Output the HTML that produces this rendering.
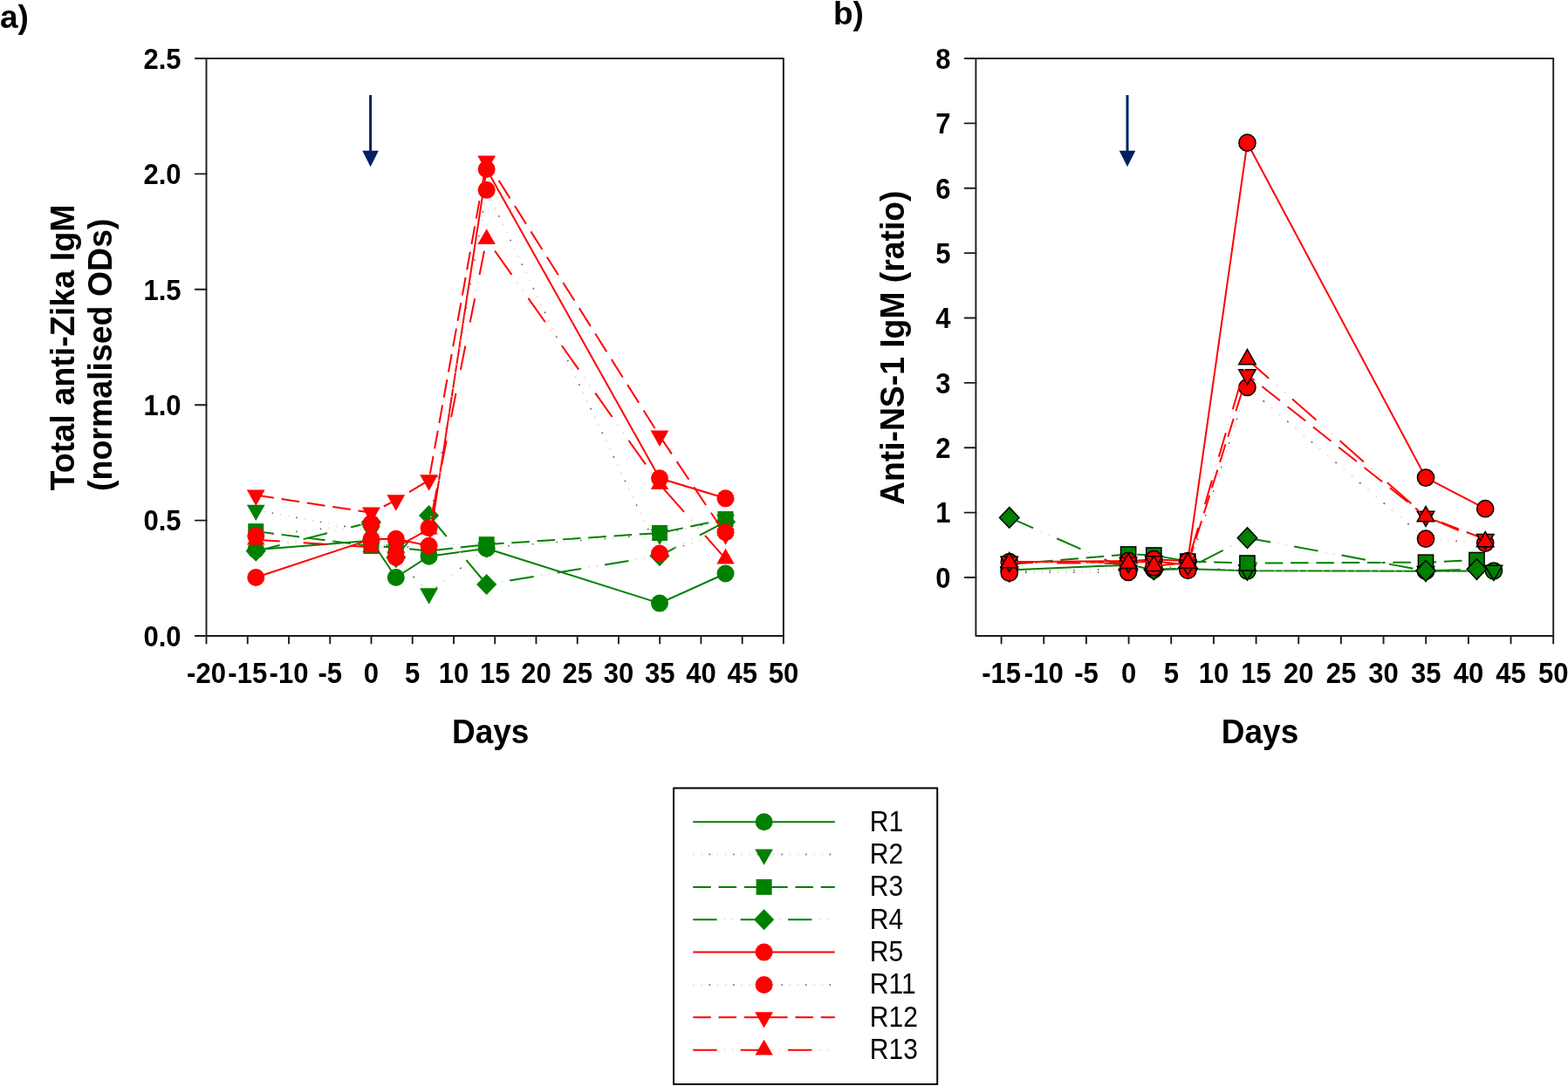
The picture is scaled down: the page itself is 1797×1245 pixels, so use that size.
<!DOCTYPE html>
<html><head><meta charset="utf-8"><title>Anti-Zika IgM figure</title>
<style>
html,body{margin:0;padding:0;background:#fff;}
body{width:1797px;height:1245px;overflow:hidden;}
svg{display:block;}
text{font-family:"Liberation Sans",Arial,sans-serif;fill:#000;}
.tk{font-size:31px;font-weight:bold;}
.ti{font-size:37px;font-weight:bold;}
.pl{font-size:37px;font-weight:bold;}
.lg{font-size:30px;}
</style></head>
<body>
<svg width="1797" height="1245" viewBox="0 0 1797 1245">
<rect width="1797" height="1245" fill="#fff"/>
<rect x="236.5" y="67.0" width="661.4" height="662" fill="none" stroke="#1c1c1c" stroke-width="1.9" stroke-linejoin="round"/>
<line x1="236.5" y1="729.0" x2="236.5" y2="737.5" stroke="#1c1c1c" stroke-width="1.9" stroke-linecap="round"/>
<text transform="translate(236.5,782.8) scale(1,1.06)" text-anchor="middle" class="tk">-20</text>
<line x1="283.74" y1="729.0" x2="283.74" y2="737.5" stroke="#1c1c1c" stroke-width="1.9" stroke-linecap="round"/>
<text transform="translate(283.74,782.8) scale(1,1.06)" text-anchor="middle" class="tk">-15</text>
<line x1="330.99" y1="729.0" x2="330.99" y2="737.5" stroke="#1c1c1c" stroke-width="1.9" stroke-linecap="round"/>
<text transform="translate(330.99,782.8) scale(1,1.06)" text-anchor="middle" class="tk">-10</text>
<line x1="378.23" y1="729.0" x2="378.23" y2="737.5" stroke="#1c1c1c" stroke-width="1.9" stroke-linecap="round"/>
<text transform="translate(378.23,782.8) scale(1,1.06)" text-anchor="middle" class="tk">-5</text>
<line x1="425.47" y1="729.0" x2="425.47" y2="737.5" stroke="#1c1c1c" stroke-width="1.9" stroke-linecap="round"/>
<text transform="translate(425.47,782.8) scale(1,1.06)" text-anchor="middle" class="tk">0</text>
<line x1="472.71" y1="729.0" x2="472.71" y2="737.5" stroke="#1c1c1c" stroke-width="1.9" stroke-linecap="round"/>
<text transform="translate(472.71,782.8) scale(1,1.06)" text-anchor="middle" class="tk">5</text>
<line x1="519.96" y1="729.0" x2="519.96" y2="737.5" stroke="#1c1c1c" stroke-width="1.9" stroke-linecap="round"/>
<text transform="translate(519.96,782.8) scale(1,1.06)" text-anchor="middle" class="tk">10</text>
<line x1="567.2" y1="729.0" x2="567.2" y2="737.5" stroke="#1c1c1c" stroke-width="1.9" stroke-linecap="round"/>
<text transform="translate(567.2,782.8) scale(1,1.06)" text-anchor="middle" class="tk">15</text>
<line x1="614.44" y1="729.0" x2="614.44" y2="737.5" stroke="#1c1c1c" stroke-width="1.9" stroke-linecap="round"/>
<text transform="translate(614.44,782.8) scale(1,1.06)" text-anchor="middle" class="tk">20</text>
<line x1="661.69" y1="729.0" x2="661.69" y2="737.5" stroke="#1c1c1c" stroke-width="1.9" stroke-linecap="round"/>
<text transform="translate(661.69,782.8) scale(1,1.06)" text-anchor="middle" class="tk">25</text>
<line x1="708.93" y1="729.0" x2="708.93" y2="737.5" stroke="#1c1c1c" stroke-width="1.9" stroke-linecap="round"/>
<text transform="translate(708.93,782.8) scale(1,1.06)" text-anchor="middle" class="tk">30</text>
<line x1="756.17" y1="729.0" x2="756.17" y2="737.5" stroke="#1c1c1c" stroke-width="1.9" stroke-linecap="round"/>
<text transform="translate(756.17,782.8) scale(1,1.06)" text-anchor="middle" class="tk">35</text>
<line x1="803.41" y1="729.0" x2="803.41" y2="737.5" stroke="#1c1c1c" stroke-width="1.9" stroke-linecap="round"/>
<text transform="translate(803.41,782.8) scale(1,1.06)" text-anchor="middle" class="tk">40</text>
<line x1="850.66" y1="729.0" x2="850.66" y2="737.5" stroke="#1c1c1c" stroke-width="1.9" stroke-linecap="round"/>
<text transform="translate(850.66,782.8) scale(1,1.06)" text-anchor="middle" class="tk">45</text>
<line x1="897.9" y1="729.0" x2="897.9" y2="737.5" stroke="#1c1c1c" stroke-width="1.9" stroke-linecap="round"/>
<text transform="translate(897.9,782.8) scale(1,1.06)" text-anchor="middle" class="tk">50</text>
<line x1="223.8" y1="729" x2="236.5" y2="729" stroke="#1c1c1c" stroke-width="1.9" stroke-linecap="round"/>
<text transform="translate(207.5,740.8) scale(1,1.06)" text-anchor="end" class="tk">0.0</text>
<line x1="223.8" y1="596.6" x2="236.5" y2="596.6" stroke="#1c1c1c" stroke-width="1.9" stroke-linecap="round"/>
<text transform="translate(207.5,608.4) scale(1,1.06)" text-anchor="end" class="tk">0.5</text>
<line x1="223.8" y1="464.2" x2="236.5" y2="464.2" stroke="#1c1c1c" stroke-width="1.9" stroke-linecap="round"/>
<text transform="translate(207.5,476) scale(1,1.06)" text-anchor="end" class="tk">1.0</text>
<line x1="223.8" y1="331.8" x2="236.5" y2="331.8" stroke="#1c1c1c" stroke-width="1.9" stroke-linecap="round"/>
<text transform="translate(207.5,343.6) scale(1,1.06)" text-anchor="end" class="tk">1.5</text>
<line x1="223.8" y1="199.4" x2="236.5" y2="199.4" stroke="#1c1c1c" stroke-width="1.9" stroke-linecap="round"/>
<text transform="translate(207.5,211.2) scale(1,1.06)" text-anchor="end" class="tk">2.0</text>
<line x1="223.8" y1="67" x2="236.5" y2="67" stroke="#1c1c1c" stroke-width="1.9" stroke-linecap="round"/>
<text transform="translate(207.5,78.8) scale(1,1.06)" text-anchor="end" class="tk">2.5</text>
<line x1="424.6" y1="109" x2="424.6" y2="176" stroke="#002060" stroke-width="3"/><polygon points="415.3,172.7 433.9,172.7 424.6,191.3" fill="#002060"/>
<polyline points="293.26,630.27 425.46,619.7 453.79,662 491.56,637.68 557.66,628.69 755.97,691.61 831.51,657.51" stroke="#008000" stroke-width="2.0" fill="none" stroke-linejoin="round"/>
<circle cx="293.26" cy="630.27" r="10.0" fill="#008000"/>
<circle cx="425.46" cy="619.7" r="10.0" fill="#008000"/>
<circle cx="453.79" cy="662" r="10.0" fill="#008000"/>
<circle cx="491.56" cy="637.68" r="10.0" fill="#008000"/>
<circle cx="557.66" cy="628.69" r="10.0" fill="#008000"/>
<circle cx="755.97" cy="691.61" r="10.0" fill="#008000"/>
<circle cx="831.51" cy="657.51" r="10.0" fill="#008000"/>
<line x1="293.26" y1="584.8" x2="425.46" y2="609.12" stroke="#c4e2c4" stroke-width="1.6" stroke-dasharray="1.32 8.03" stroke-dashoffset="0"/>
<line x1="425.46" y1="609.12" x2="453.79" y2="639" stroke="#c4e2c4" stroke-width="1.6" stroke-dasharray="1.79 10.89" stroke-dashoffset="4.69"/>
<line x1="453.79" y1="639" x2="491.56" y2="680.51" stroke="#c4e2c4" stroke-width="1.6" stroke-dasharray="1.76 10.68" stroke-dashoffset="7.68"/>
<line x1="491.56" y1="680.51" x2="557.66" y2="627.63" stroke="#c4e2c4" stroke-width="1.6" stroke-dasharray="1.66 10.12" stroke-dashoffset="1.52"/>
<line x1="557.66" y1="627.63" x2="755.97" y2="612.82" stroke="#c4e2c4" stroke-width="1.6" stroke-dasharray="1.3 7.92" stroke-dashoffset="2.9"/>
<line x1="755.97" y1="612.82" x2="831.51" y2="595.9" stroke="#c4e2c4" stroke-width="1.6" stroke-dasharray="1.33 8.1" stroke-dashoffset="8.19"/>
<line x1="293.26" y1="584.8" x2="425.46" y2="609.12" stroke="#555" stroke-width="1.4" stroke-dasharray="1.42 26.64" stroke-dashoffset="9.35"/>
<line x1="425.46" y1="609.12" x2="453.79" y2="639" stroke="#555" stroke-width="1.4" stroke-dasharray="1.93 36.11" stroke-dashoffset="4.69"/>
<line x1="453.79" y1="639" x2="491.56" y2="680.51" stroke="#555" stroke-width="1.4" stroke-dasharray="1.89 35.42" stroke-dashoffset="7.68"/>
<line x1="491.56" y1="680.51" x2="557.66" y2="627.63" stroke="#555" stroke-width="1.4" stroke-dasharray="1.79 33.55" stroke-dashoffset="25.09"/>
<line x1="557.66" y1="627.63" x2="755.97" y2="612.82" stroke="#555" stroke-width="1.4" stroke-dasharray="1.4 26.27" stroke-dashoffset="2.9"/>
<line x1="755.97" y1="612.82" x2="831.51" y2="595.9" stroke="#555" stroke-width="1.4" stroke-dasharray="1.43 26.85" stroke-dashoffset="8.19"/>
<polygon points="282.86,578.66 303.66,578.66 293.26,597.06" fill="#008000"/>
<polygon points="415.06,602.99 435.86,602.99 425.46,621.39" fill="#008000"/>
<polygon points="443.39,632.86 464.19,632.86 453.79,651.26" fill="#008000"/>
<polygon points="481.16,674.37 501.96,674.37 491.56,692.77" fill="#008000"/>
<polygon points="547.26,621.49 568.06,621.49 557.66,639.89" fill="#008000"/>
<polygon points="745.57,606.69 766.37,606.69 755.97,625.09" fill="#008000"/>
<polygon points="821.11,589.77 841.91,589.77 831.51,608.17" fill="#008000"/>
<line x1="293.26" y1="609.12" x2="425.46" y2="626.04" stroke="#008000" stroke-width="2.0" stroke-dasharray="20.77 8.77" stroke-dashoffset="0"/>
<line x1="425.46" y1="626.04" x2="453.79" y2="627.63" stroke="#008000" stroke-width="2.0" stroke-dasharray="20.63 8.71" stroke-dashoffset="15.03"/>
<line x1="453.79" y1="627.63" x2="491.56" y2="631.59" stroke="#008000" stroke-width="2.0" stroke-dasharray="20.71 8.75" stroke-dashoffset="14.11"/>
<line x1="491.56" y1="631.59" x2="557.66" y2="624.19" stroke="#008000" stroke-width="2.0" stroke-dasharray="20.73 8.75" stroke-dashoffset="22.64"/>
<line x1="557.66" y1="624.19" x2="755.97" y2="610.97" stroke="#008000" stroke-width="2.0" stroke-dasharray="20.65 8.72" stroke-dashoffset="0.71"/>
<line x1="755.97" y1="610.97" x2="831.51" y2="595.11" stroke="#008000" stroke-width="2.0" stroke-dasharray="21.05 8.89" stroke-dashoffset="23.71"/>
<rect x="284.26" y="600.12" width="18" height="18" fill="#008000"/>
<rect x="416.46" y="617.04" width="18" height="18" fill="#008000"/>
<rect x="444.79" y="618.63" width="18" height="18" fill="#008000"/>
<rect x="482.56" y="622.59" width="18" height="18" fill="#008000"/>
<rect x="548.66" y="615.19" width="18" height="18" fill="#008000"/>
<rect x="746.97" y="601.97" width="18" height="18" fill="#008000"/>
<rect x="822.51" y="586.11" width="18" height="18" fill="#008000"/>
<line x1="293.26" y1="631.86" x2="425.46" y2="598.54" stroke="#008000" stroke-width="2.0" stroke-dasharray="28.26 27.84" stroke-dashoffset="0"/>
<line x1="425.46" y1="598.54" x2="453.79" y2="639" stroke="#008000" stroke-width="2.0" stroke-dasharray="33.45 32.96" stroke-dashoffset="28.57"/>
<line x1="453.79" y1="639" x2="491.56" y2="590.88" stroke="#008000" stroke-width="2.0" stroke-dasharray="34.83 34.32" stroke-dashoffset="12.02"/>
<line x1="491.56" y1="590.88" x2="557.66" y2="669.93" stroke="#008000" stroke-width="2.0" stroke-dasharray="35.72 35.19" stroke-dashoffset="4.14"/>
<line x1="557.66" y1="669.93" x2="755.97" y2="637.15" stroke="#008000" stroke-width="2.0" stroke-dasharray="27.77 27.37" stroke-dashoffset="28.21"/>
<line x1="755.97" y1="637.15" x2="831.51" y2="598.28" stroke="#008000" stroke-width="2.0" stroke-dasharray="30.81 30.36" stroke-dashoffset="9.6"/>
<line x1="293.26" y1="631.86" x2="425.46" y2="598.54" stroke="#c4e2c4" stroke-width="1.6" stroke-dasharray="1.34 7.94 1.34 45.48" stroke-dashoffset="18.98"/>
<line x1="425.46" y1="598.54" x2="453.79" y2="639" stroke="#c4e2c4" stroke-width="1.6" stroke-dasharray="1.59 9.4 1.59 53.84" stroke-dashoffset="51.03"/>
<line x1="453.79" y1="639" x2="491.56" y2="590.88" stroke="#c4e2c4" stroke-width="1.6" stroke-dasharray="1.65 9.79 1.65 56.06" stroke-dashoffset="35.41"/>
<line x1="491.56" y1="590.88" x2="557.66" y2="669.93" stroke="#c4e2c4" stroke-width="1.6" stroke-dasharray="1.69 10.04 1.69 57.48" stroke-dashoffset="28.12"/>
<line x1="557.66" y1="669.93" x2="755.97" y2="637.15" stroke="#c4e2c4" stroke-width="1.6" stroke-dasharray="1.32 7.8 1.32 44.7" stroke-dashoffset="46.86"/>
<line x1="755.97" y1="637.15" x2="831.51" y2="598.28" stroke="#c4e2c4" stroke-width="1.6" stroke-dasharray="1.46 8.66 1.46 49.59" stroke-dashoffset="30.29"/>
<polygon points="293.26,619.86 304.86,631.86 293.26,643.86 281.66,631.86" fill="#008000"/>
<polygon points="425.46,586.54 437.06,598.54 425.46,610.54 413.86,598.54" fill="#008000"/>
<polygon points="453.79,627 465.39,639 453.79,651 442.19,639" fill="#008000"/>
<polygon points="491.56,578.88 503.16,590.88 491.56,602.88 479.96,590.88" fill="#008000"/>
<polygon points="557.66,657.93 569.26,669.93 557.66,681.93 546.06,669.93" fill="#008000"/>
<polygon points="755.97,625.15 767.57,637.15 755.97,649.15 744.37,637.15" fill="#008000"/>
<polygon points="831.51,586.28 843.11,598.28 831.51,610.28 819.91,598.28" fill="#008000"/>
<polyline points="293.26,662 425.46,618.11 453.79,617.85 491.56,625.78 557.66,194.01 755.97,548.31 831.51,571.31" stroke="#ff0000" stroke-width="2.0" fill="none" stroke-linejoin="round"/>
<circle cx="293.26" cy="662" r="10.0" fill="#ff0000"/>
<circle cx="425.46" cy="618.11" r="10.0" fill="#ff0000"/>
<circle cx="453.79" cy="617.85" r="10.0" fill="#ff0000"/>
<circle cx="491.56" cy="625.78" r="10.0" fill="#ff0000"/>
<circle cx="557.66" cy="194.01" r="10.0" fill="#ff0000"/>
<circle cx="755.97" cy="548.31" r="10.0" fill="#ff0000"/>
<circle cx="831.51" cy="571.31" r="10.0" fill="#ff0000"/>
<line x1="293.26" y1="614.41" x2="425.46" y2="600.13" stroke="#ffc4c4" stroke-width="1.6" stroke-dasharray="1.31 7.95" stroke-dashoffset="0"/>
<line x1="425.46" y1="600.13" x2="453.79" y2="639" stroke="#ffc4c4" stroke-width="1.6" stroke-dasharray="1.61 9.78" stroke-dashoffset="4.21"/>
<line x1="453.79" y1="639" x2="491.56" y2="605.15" stroke="#ffc4c4" stroke-width="1.6" stroke-dasharray="1.75 10.61" stroke-dashoffset="7.34"/>
<line x1="491.56" y1="605.15" x2="557.66" y2="217.81" stroke="#ffc4c4" stroke-width="1.6" stroke-dasharray="1.32 8.01" stroke-dashoffset="6.53"/>
<line x1="557.66" y1="217.81" x2="755.97" y2="634.5" stroke="#ffc4c4" stroke-width="1.6" stroke-dasharray="1.44 8.75" stroke-dashoffset="8.18"/>
<line x1="755.97" y1="634.5" x2="831.51" y2="610.18" stroke="#ffc4c4" stroke-width="1.6" stroke-dasharray="1.37 8.3" stroke-dashoffset="0.93"/>
<line x1="293.26" y1="614.41" x2="425.46" y2="600.13" stroke="#555" stroke-width="1.4" stroke-dasharray="1.41 26.35" stroke-dashoffset="9.25"/>
<line x1="425.46" y1="600.13" x2="453.79" y2="639" stroke="#555" stroke-width="1.4" stroke-dasharray="1.73 32.42" stroke-dashoffset="4.21"/>
<line x1="453.79" y1="639" x2="491.56" y2="605.15" stroke="#555" stroke-width="1.4" stroke-dasharray="1.88 35.18" stroke-dashoffset="19.7"/>
<line x1="491.56" y1="605.15" x2="557.66" y2="217.81" stroke="#555" stroke-width="1.4" stroke-dasharray="1.42 26.58" stroke-dashoffset="25.2"/>
<line x1="557.66" y1="217.81" x2="755.97" y2="634.5" stroke="#555" stroke-width="1.4" stroke-dasharray="1.55 29.02" stroke-dashoffset="28.56"/>
<line x1="755.97" y1="634.5" x2="831.51" y2="610.18" stroke="#555" stroke-width="1.4" stroke-dasharray="1.47 27.52" stroke-dashoffset="0.93"/>
<circle cx="293.26" cy="614.41" r="10.0" fill="#ff0000"/>
<circle cx="425.46" cy="600.13" r="10.0" fill="#ff0000"/>
<circle cx="453.79" cy="639" r="10.0" fill="#ff0000"/>
<circle cx="491.56" cy="605.15" r="10.0" fill="#ff0000"/>
<circle cx="557.66" cy="217.81" r="10.0" fill="#ff0000"/>
<circle cx="755.97" cy="634.5" r="10.0" fill="#ff0000"/>
<circle cx="831.51" cy="610.18" r="10.0" fill="#ff0000"/>
<line x1="293.26" y1="567.61" x2="425.46" y2="587.7" stroke="#ff0000" stroke-width="2.0" stroke-dasharray="20.84 8.8" stroke-dashoffset="0"/>
<line x1="425.46" y1="587.7" x2="453.79" y2="573.43" stroke="#ff0000" stroke-width="2.0" stroke-dasharray="23.07 9.74" stroke-dashoffset="16.8"/>
<line x1="453.79" y1="573.43" x2="491.56" y2="550.42" stroke="#ff0000" stroke-width="2.0" stroke-dasharray="24.12 10.19" stroke-dashoffset="16.43"/>
<line x1="491.56" y1="550.42" x2="557.66" y2="184.76" stroke="#ff0000" stroke-width="2.0" stroke-dasharray="20.93 8.84" stroke-dashoffset="22.87"/>
<line x1="557.66" y1="184.76" x2="755.97" y2="499.66" stroke="#ff0000" stroke-width="2.0" stroke-dasharray="24.34 10.28" stroke-dashoffset="8.59"/>
<line x1="755.97" y1="499.66" x2="831.51" y2="612.56" stroke="#ff0000" stroke-width="2.0" stroke-dasharray="24.79 10.47" stroke-dashoffset="35.1"/>
<polygon points="282.86,561.48 303.66,561.48 293.26,579.88" fill="#ff0000"/>
<polygon points="415.06,581.57 435.86,581.57 425.46,599.97" fill="#ff0000"/>
<polygon points="443.39,567.29 464.19,567.29 453.79,585.69" fill="#ff0000"/>
<polygon points="481.16,544.29 501.96,544.29 491.56,562.69" fill="#ff0000"/>
<polygon points="547.26,178.62 568.06,178.62 557.66,197.02" fill="#ff0000"/>
<polygon points="745.57,493.53 766.37,493.53 755.97,511.93" fill="#ff0000"/>
<polygon points="821.11,606.42 841.91,606.42 831.51,624.82" fill="#ff0000"/>
<line x1="293.26" y1="618.64" x2="425.46" y2="627.36" stroke="#ff0000" stroke-width="2.0" stroke-dasharray="27.46 27.06" stroke-dashoffset="0"/>
<line x1="425.46" y1="627.36" x2="453.79" y2="627.63" stroke="#ff0000" stroke-width="2.0" stroke-dasharray="27.4 27" stroke-dashoffset="23.4"/>
<line x1="453.79" y1="627.63" x2="491.56" y2="606.48" stroke="#ff0000" stroke-width="2.0" stroke-dasharray="31.4 30.95" stroke-dashoffset="59.29"/>
<line x1="491.56" y1="606.48" x2="557.66" y2="274.13" stroke="#ff0000" stroke-width="2.0" stroke-dasharray="27.94 27.53" stroke-dashoffset="35.79"/>
<line x1="557.66" y1="274.13" x2="755.97" y2="555.18" stroke="#ff0000" stroke-width="2.0" stroke-dasharray="33.53 33.04" stroke-dashoffset="50.24"/>
<line x1="755.97" y1="555.18" x2="831.51" y2="640.58" stroke="#ff0000" stroke-width="2.0" stroke-dasharray="36.58 36.05" stroke-dashoffset="66.9"/>
<line x1="293.26" y1="618.64" x2="425.46" y2="627.36" stroke="#ffc4c4" stroke-width="1.6" stroke-dasharray="1.3 7.72 1.3 44.2" stroke-dashoffset="18.44"/>
<line x1="425.46" y1="627.36" x2="453.79" y2="627.63" stroke="#ffc4c4" stroke-width="1.6" stroke-dasharray="1.3 7.7 1.3 44.1" stroke-dashoffset="41.8"/>
<line x1="453.79" y1="627.63" x2="491.56" y2="606.48" stroke="#ffc4c4" stroke-width="1.6" stroke-dasharray="1.49 8.83 1.49 50.54" stroke-dashoffset="18.03"/>
<line x1="491.56" y1="606.48" x2="557.66" y2="274.13" stroke="#ffc4c4" stroke-width="1.6" stroke-dasharray="1.33 7.85 1.33 44.96" stroke-dashoffset="54.55"/>
<line x1="557.66" y1="274.13" x2="755.97" y2="555.18" stroke="#ffc4c4" stroke-width="1.6" stroke-dasharray="1.59 9.42 1.59 53.97" stroke-dashoffset="6.19"/>
<line x1="755.97" y1="555.18" x2="831.51" y2="640.58" stroke="#ffc4c4" stroke-width="1.6" stroke-dasharray="1.74 10.28 1.74 58.88" stroke-dashoffset="18.84"/>
<polygon points="283.06,624.57 303.46,624.57 293.26,606.77" fill="#ff0000"/>
<polygon points="415.26,633.3 435.66,633.3 425.46,615.5" fill="#ff0000"/>
<polygon points="443.59,633.56 463.99,633.56 453.79,615.76" fill="#ff0000"/>
<polygon points="481.36,612.41 501.76,612.41 491.56,594.61" fill="#ff0000"/>
<polygon points="547.46,280.06 567.86,280.06 557.66,262.26" fill="#ff0000"/>
<polygon points="745.76,561.12 766.17,561.12 755.97,543.32" fill="#ff0000"/>
<polygon points="821.31,646.52 841.71,646.52 831.51,628.72" fill="#ff0000"/>
<rect x="1118.4" y="67.0" width="661.8" height="662" fill="none" stroke="#1c1c1c" stroke-width="1.9" stroke-linejoin="round"/>
<line x1="1147.6" y1="729.0" x2="1147.6" y2="737.5" stroke="#1c1c1c" stroke-width="1.9" stroke-linecap="round"/>
<text transform="translate(1147.6,782.8) scale(1,1.06)" text-anchor="middle" class="tk">-15</text>
<line x1="1196.26" y1="729.0" x2="1196.26" y2="737.5" stroke="#1c1c1c" stroke-width="1.9" stroke-linecap="round"/>
<text transform="translate(1196.26,782.8) scale(1,1.06)" text-anchor="middle" class="tk">-10</text>
<line x1="1244.92" y1="729.0" x2="1244.92" y2="737.5" stroke="#1c1c1c" stroke-width="1.9" stroke-linecap="round"/>
<text transform="translate(1244.92,782.8) scale(1,1.06)" text-anchor="middle" class="tk">-5</text>
<line x1="1293.58" y1="729.0" x2="1293.58" y2="737.5" stroke="#1c1c1c" stroke-width="1.9" stroke-linecap="round"/>
<text transform="translate(1293.58,782.8) scale(1,1.06)" text-anchor="middle" class="tk">0</text>
<line x1="1342.24" y1="729.0" x2="1342.24" y2="737.5" stroke="#1c1c1c" stroke-width="1.9" stroke-linecap="round"/>
<text transform="translate(1342.24,782.8) scale(1,1.06)" text-anchor="middle" class="tk">5</text>
<line x1="1390.91" y1="729.0" x2="1390.91" y2="737.5" stroke="#1c1c1c" stroke-width="1.9" stroke-linecap="round"/>
<text transform="translate(1390.91,782.8) scale(1,1.06)" text-anchor="middle" class="tk">10</text>
<line x1="1439.57" y1="729.0" x2="1439.57" y2="737.5" stroke="#1c1c1c" stroke-width="1.9" stroke-linecap="round"/>
<text transform="translate(1439.57,782.8) scale(1,1.06)" text-anchor="middle" class="tk">15</text>
<line x1="1488.23" y1="729.0" x2="1488.23" y2="737.5" stroke="#1c1c1c" stroke-width="1.9" stroke-linecap="round"/>
<text transform="translate(1488.23,782.8) scale(1,1.06)" text-anchor="middle" class="tk">20</text>
<line x1="1536.89" y1="729.0" x2="1536.89" y2="737.5" stroke="#1c1c1c" stroke-width="1.9" stroke-linecap="round"/>
<text transform="translate(1536.89,782.8) scale(1,1.06)" text-anchor="middle" class="tk">25</text>
<line x1="1585.55" y1="729.0" x2="1585.55" y2="737.5" stroke="#1c1c1c" stroke-width="1.9" stroke-linecap="round"/>
<text transform="translate(1585.55,782.8) scale(1,1.06)" text-anchor="middle" class="tk">30</text>
<line x1="1634.21" y1="729.0" x2="1634.21" y2="737.5" stroke="#1c1c1c" stroke-width="1.9" stroke-linecap="round"/>
<text transform="translate(1634.21,782.8) scale(1,1.06)" text-anchor="middle" class="tk">35</text>
<line x1="1682.88" y1="729.0" x2="1682.88" y2="737.5" stroke="#1c1c1c" stroke-width="1.9" stroke-linecap="round"/>
<text transform="translate(1682.88,782.8) scale(1,1.06)" text-anchor="middle" class="tk">40</text>
<line x1="1731.54" y1="729.0" x2="1731.54" y2="737.5" stroke="#1c1c1c" stroke-width="1.9" stroke-linecap="round"/>
<text transform="translate(1731.54,782.8) scale(1,1.06)" text-anchor="middle" class="tk">45</text>
<line x1="1780.2" y1="729.0" x2="1780.2" y2="737.5" stroke="#1c1c1c" stroke-width="1.9" stroke-linecap="round"/>
<text transform="translate(1780.2,782.8) scale(1,1.06)" text-anchor="middle" class="tk">50</text>
<line x1="1105.7" y1="662.06" x2="1118.4" y2="662.06" stroke="#1c1c1c" stroke-width="1.9" stroke-linecap="round"/>
<text transform="translate(1089.4,673.86) scale(1,1.06)" text-anchor="end" class="tk">0</text>
<line x1="1105.7" y1="587.67" x2="1118.4" y2="587.67" stroke="#1c1c1c" stroke-width="1.9" stroke-linecap="round"/>
<text transform="translate(1089.4,599.47) scale(1,1.06)" text-anchor="end" class="tk">1</text>
<line x1="1105.7" y1="513.29" x2="1118.4" y2="513.29" stroke="#1c1c1c" stroke-width="1.9" stroke-linecap="round"/>
<text transform="translate(1089.4,525.09) scale(1,1.06)" text-anchor="end" class="tk">2</text>
<line x1="1105.7" y1="438.91" x2="1118.4" y2="438.91" stroke="#1c1c1c" stroke-width="1.9" stroke-linecap="round"/>
<text transform="translate(1089.4,450.71) scale(1,1.06)" text-anchor="end" class="tk">3</text>
<line x1="1105.7" y1="364.53" x2="1118.4" y2="364.53" stroke="#1c1c1c" stroke-width="1.9" stroke-linecap="round"/>
<text transform="translate(1089.4,376.33) scale(1,1.06)" text-anchor="end" class="tk">4</text>
<line x1="1105.7" y1="290.15" x2="1118.4" y2="290.15" stroke="#1c1c1c" stroke-width="1.9" stroke-linecap="round"/>
<text transform="translate(1089.4,301.95) scale(1,1.06)" text-anchor="end" class="tk">5</text>
<line x1="1105.7" y1="215.76" x2="1118.4" y2="215.76" stroke="#1c1c1c" stroke-width="1.9" stroke-linecap="round"/>
<text transform="translate(1089.4,227.56) scale(1,1.06)" text-anchor="end" class="tk">6</text>
<line x1="1105.7" y1="141.38" x2="1118.4" y2="141.38" stroke="#1c1c1c" stroke-width="1.9" stroke-linecap="round"/>
<text transform="translate(1089.4,153.18) scale(1,1.06)" text-anchor="end" class="tk">7</text>
<line x1="1105.7" y1="67" x2="1118.4" y2="67" stroke="#1c1c1c" stroke-width="1.9" stroke-linecap="round"/>
<text transform="translate(1089.4,78.8) scale(1,1.06)" text-anchor="end" class="tk">8</text>
<line x1="1292" y1="109" x2="1292" y2="176" stroke="#002060" stroke-width="3"/><polygon points="1282.7,172.7 1301.3,172.7 1292,191.3" fill="#002060"/>
<polyline points="1156.74,653.62 1293.1,647.68 1322.32,653.03 1361.28,652.14 1429.46,654.37 1634,654.74 1711.92,654.51" stroke="#008000" stroke-width="2.0" fill="none" stroke-linejoin="round"/>
<circle cx="1156.74" cy="653.62" r="9.6" fill="#008000" stroke="#000" stroke-width="1.5" stroke-linejoin="miter"/>
<circle cx="1293.1" cy="647.68" r="9.6" fill="#008000" stroke="#000" stroke-width="1.5" stroke-linejoin="miter"/>
<circle cx="1322.32" cy="653.03" r="9.6" fill="#008000" stroke="#000" stroke-width="1.5" stroke-linejoin="miter"/>
<circle cx="1361.28" cy="652.14" r="9.6" fill="#008000" stroke="#000" stroke-width="1.5" stroke-linejoin="miter"/>
<circle cx="1429.46" cy="654.37" r="9.6" fill="#008000" stroke="#000" stroke-width="1.5" stroke-linejoin="miter"/>
<circle cx="1634" cy="654.74" r="9.6" fill="#008000" stroke="#000" stroke-width="1.5" stroke-linejoin="miter"/>
<circle cx="1711.92" cy="654.51" r="9.6" fill="#008000" stroke="#000" stroke-width="1.5" stroke-linejoin="miter"/>
<line x1="1156.74" y1="655.48" x2="1293.1" y2="652.14" stroke="#c4e2c4" stroke-width="1.6" stroke-dasharray="1.3 7.9" stroke-dashoffset="0"/>
<line x1="1293.1" y1="652.14" x2="1322.32" y2="649.53" stroke="#c4e2c4" stroke-width="1.6" stroke-dasharray="1.31 7.93" stroke-dashoffset="7.59"/>
<line x1="1322.32" y1="649.53" x2="1361.28" y2="650.65" stroke="#c4e2c4" stroke-width="1.6" stroke-dasharray="1.3 7.9" stroke-dashoffset="9.18"/>
<line x1="1361.28" y1="650.65" x2="1429.46" y2="653.77" stroke="#c4e2c4" stroke-width="1.6" stroke-dasharray="1.3 7.91" stroke-dashoffset="2.14"/>
<line x1="1429.46" y1="653.77" x2="1634" y2="655.11" stroke="#c4e2c4" stroke-width="1.6" stroke-dasharray="1.3 7.9" stroke-dashoffset="5.92"/>
<line x1="1634" y1="655.11" x2="1711.92" y2="653.99" stroke="#c4e2c4" stroke-width="1.6" stroke-dasharray="1.3 7.9" stroke-dashoffset="8.06"/>
<line x1="1156.74" y1="655.48" x2="1293.1" y2="652.14" stroke="#555" stroke-width="1.4" stroke-dasharray="1.4 26.21" stroke-dashoffset="9.2"/>
<line x1="1293.1" y1="652.14" x2="1322.32" y2="649.53" stroke="#555" stroke-width="1.4" stroke-dasharray="1.41 26.3" stroke-dashoffset="7.59"/>
<line x1="1322.32" y1="649.53" x2="1361.28" y2="650.65" stroke="#555" stroke-width="1.4" stroke-dasharray="1.4 26.21" stroke-dashoffset="9.18"/>
<line x1="1361.28" y1="650.65" x2="1429.46" y2="653.77" stroke="#555" stroke-width="1.4" stroke-dasharray="1.4 26.23" stroke-dashoffset="20.56"/>
<line x1="1429.46" y1="653.77" x2="1634" y2="655.11" stroke="#555" stroke-width="1.4" stroke-dasharray="1.4 26.2" stroke-dashoffset="5.92"/>
<line x1="1634" y1="655.11" x2="1711.92" y2="653.99" stroke="#555" stroke-width="1.4" stroke-dasharray="1.4 26.2" stroke-dashoffset="17.26"/>
<polygon points="1146.99,649.75 1166.49,649.75 1156.74,666.95" fill="#008000" stroke="#000" stroke-width="1.5" stroke-linejoin="miter"/>
<polygon points="1283.35,646.4 1302.85,646.4 1293.1,663.6" fill="#008000" stroke="#000" stroke-width="1.5" stroke-linejoin="miter"/>
<polygon points="1312.57,643.8 1332.07,643.8 1322.32,661" fill="#008000" stroke="#000" stroke-width="1.5" stroke-linejoin="miter"/>
<polygon points="1351.53,644.92 1371.03,644.92 1361.28,662.12" fill="#008000" stroke="#000" stroke-width="1.5" stroke-linejoin="miter"/>
<polygon points="1419.71,648.04 1439.21,648.04 1429.46,665.24" fill="#008000" stroke="#000" stroke-width="1.5" stroke-linejoin="miter"/>
<polygon points="1624.25,649.38 1643.75,649.38 1634,666.58" fill="#008000" stroke="#000" stroke-width="1.5" stroke-linejoin="miter"/>
<polygon points="1702.17,648.26 1721.67,648.26 1711.92,665.46" fill="#008000" stroke="#000" stroke-width="1.5" stroke-linejoin="miter"/>
<line x1="1156.74" y1="646.93" x2="1293.1" y2="635.48" stroke="#008000" stroke-width="2.0" stroke-dasharray="20.67 8.73" stroke-dashoffset="0"/>
<line x1="1293.1" y1="635.48" x2="1322.32" y2="636.52" stroke="#008000" stroke-width="2.0" stroke-dasharray="20.61 8.71" stroke-dashoffset="19.17"/>
<line x1="1322.32" y1="636.52" x2="1361.28" y2="643.59" stroke="#008000" stroke-width="2.0" stroke-dasharray="20.94 8.84" stroke-dashoffset="19.39"/>
<line x1="1361.28" y1="643.59" x2="1429.46" y2="645.59" stroke="#008000" stroke-width="2.0" stroke-dasharray="20.61 8.7" stroke-dashoffset="28.75"/>
<line x1="1429.46" y1="645.59" x2="1634" y2="644.7" stroke="#008000" stroke-width="2.0" stroke-dasharray="20.6 8.7" stroke-dashoffset="9.02"/>
<line x1="1634" y1="644.7" x2="1692.44" y2="642.03" stroke="#008000" stroke-width="2.0" stroke-dasharray="20.62 8.71" stroke-dashoffset="8.47"/>
<rect x="1148.14" y="638.33" width="17.2" height="17.2" fill="#008000" stroke="#000" stroke-width="1.5" stroke-linejoin="miter"/>
<rect x="1284.5" y="626.88" width="17.2" height="17.2" fill="#008000" stroke="#000" stroke-width="1.5" stroke-linejoin="miter"/>
<rect x="1313.72" y="627.92" width="17.2" height="17.2" fill="#008000" stroke="#000" stroke-width="1.5" stroke-linejoin="miter"/>
<rect x="1352.68" y="634.99" width="17.2" height="17.2" fill="#008000" stroke="#000" stroke-width="1.5" stroke-linejoin="miter"/>
<rect x="1420.86" y="636.99" width="17.2" height="17.2" fill="#008000" stroke="#000" stroke-width="1.5" stroke-linejoin="miter"/>
<rect x="1625.4" y="636.1" width="17.2" height="17.2" fill="#008000" stroke="#000" stroke-width="1.5" stroke-linejoin="miter"/>
<rect x="1683.84" y="633.43" width="17.2" height="17.2" fill="#008000" stroke="#000" stroke-width="1.5" stroke-linejoin="miter"/>
<line x1="1156.74" y1="593.41" x2="1293.1" y2="653.25" stroke="#008000" stroke-width="2.0" stroke-dasharray="29.92 29.49" stroke-dashoffset="0"/>
<line x1="1293.1" y1="653.25" x2="1322.32" y2="652.88" stroke="#008000" stroke-width="2.0" stroke-dasharray="27.4 27" stroke-dashoffset="27.56"/>
<line x1="1322.32" y1="652.88" x2="1361.28" y2="651.54" stroke="#008000" stroke-width="2.0" stroke-dasharray="27.42 27.02" stroke-dashoffset="2.38"/>
<line x1="1361.28" y1="651.54" x2="1429.46" y2="616.68" stroke="#008000" stroke-width="2.0" stroke-dasharray="30.77 30.33" stroke-dashoffset="46.43"/>
<line x1="1429.46" y1="616.68" x2="1634" y2="654.37" stroke="#008000" stroke-width="2.0" stroke-dasharray="27.86 27.45" stroke-dashoffset="0.73"/>
<line x1="1634" y1="654.37" x2="1692.44" y2="652.58" stroke="#008000" stroke-width="2.0" stroke-dasharray="27.41 27.01" stroke-dashoffset="42.08"/>
<line x1="1156.74" y1="593.41" x2="1293.1" y2="653.25" stroke="#c4e2c4" stroke-width="1.6" stroke-dasharray="1.42 8.41 1.42 48.16" stroke-dashoffset="20.09"/>
<line x1="1293.1" y1="653.25" x2="1322.32" y2="652.88" stroke="#c4e2c4" stroke-width="1.6" stroke-dasharray="1.3 7.7 1.3 44.1" stroke-dashoffset="45.96"/>
<line x1="1322.32" y1="652.88" x2="1361.28" y2="651.54" stroke="#c4e2c4" stroke-width="1.6" stroke-dasharray="1.3 7.7 1.3 44.13" stroke-dashoffset="20.79"/>
<line x1="1361.28" y1="651.54" x2="1429.46" y2="616.68" stroke="#c4e2c4" stroke-width="1.6" stroke-dasharray="1.46 8.65 1.46 49.53" stroke-dashoffset="6"/>
<line x1="1429.46" y1="616.68" x2="1634" y2="654.37" stroke="#c4e2c4" stroke-width="1.6" stroke-dasharray="1.32 7.83 1.32 44.84" stroke-dashoffset="19.44"/>
<line x1="1634" y1="654.37" x2="1692.44" y2="652.58" stroke="#c4e2c4" stroke-width="1.6" stroke-dasharray="1.3 7.7 1.3 44.12" stroke-dashoffset="6.06"/>
<polygon points="1156.74,581.61 1167.94,593.41 1156.74,605.21 1145.54,593.41" fill="#008000" stroke="#000" stroke-width="1.5" stroke-linejoin="miter"/>
<polygon points="1293.1,641.45 1304.3,653.25 1293.1,665.05 1281.9,653.25" fill="#008000" stroke="#000" stroke-width="1.5" stroke-linejoin="miter"/>
<polygon points="1322.32,641.08 1333.52,652.88 1322.32,664.68 1311.12,652.88" fill="#008000" stroke="#000" stroke-width="1.5" stroke-linejoin="miter"/>
<polygon points="1361.28,639.74 1372.48,651.54 1361.28,663.34 1350.08,651.54" fill="#008000" stroke="#000" stroke-width="1.5" stroke-linejoin="miter"/>
<polygon points="1429.46,604.88 1440.66,616.68 1429.46,628.48 1418.26,616.68" fill="#008000" stroke="#000" stroke-width="1.5" stroke-linejoin="miter"/>
<polygon points="1634,642.57 1645.2,654.37 1634,666.17 1622.8,654.37" fill="#008000" stroke="#000" stroke-width="1.5" stroke-linejoin="miter"/>
<polygon points="1692.44,640.78 1703.64,652.58 1692.44,664.38 1681.24,652.58" fill="#008000" stroke="#000" stroke-width="1.5" stroke-linejoin="miter"/>
<polyline points="1156.74,644.18 1293.1,643.21 1322.32,641.21 1361.28,643.14 1429.46,163.72 1634,547.61 1702.18,583.22" stroke="#ff0000" stroke-width="2.0" fill="none" stroke-linejoin="round"/>
<circle cx="1156.74" cy="644.18" r="9.6" fill="#ff0000" stroke="#000" stroke-width="1.5" stroke-linejoin="miter"/>
<circle cx="1293.1" cy="643.21" r="9.6" fill="#ff0000" stroke="#000" stroke-width="1.5" stroke-linejoin="miter"/>
<circle cx="1322.32" cy="641.21" r="9.6" fill="#ff0000" stroke="#000" stroke-width="1.5" stroke-linejoin="miter"/>
<circle cx="1361.28" cy="643.14" r="9.6" fill="#ff0000" stroke="#000" stroke-width="1.5" stroke-linejoin="miter"/>
<circle cx="1429.46" cy="163.72" r="9.6" fill="#ff0000" stroke="#000" stroke-width="1.5" stroke-linejoin="miter"/>
<circle cx="1634" cy="547.61" r="9.6" fill="#ff0000" stroke="#000" stroke-width="1.5" stroke-linejoin="miter"/>
<circle cx="1702.18" cy="583.22" r="9.6" fill="#ff0000" stroke="#000" stroke-width="1.5" stroke-linejoin="miter"/>
<line x1="1156.74" y1="656.67" x2="1293.1" y2="655.85" stroke="#ffc4c4" stroke-width="1.6" stroke-dasharray="1.3 7.9" stroke-dashoffset="0"/>
<line x1="1293.1" y1="655.85" x2="1322.32" y2="650.13" stroke="#ffc4c4" stroke-width="1.6" stroke-dasharray="1.32 8.05" stroke-dashoffset="7.7"/>
<line x1="1322.32" y1="650.13" x2="1361.28" y2="653.7" stroke="#ffc4c4" stroke-width="1.6" stroke-dasharray="1.31 7.93" stroke-dashoffset="9.22"/>
<line x1="1361.28" y1="653.7" x2="1429.46" y2="443.98" stroke="#ffc4c4" stroke-width="1.6" stroke-dasharray="1.37 8.31" stroke-dashoffset="2.25"/>
<line x1="1429.46" y1="443.98" x2="1634" y2="617.72" stroke="#ffc4c4" stroke-width="1.6" stroke-dasharray="1.71 10.37" stroke-dashoffset="0.33"/>
<line x1="1634" y1="617.72" x2="1702.18" y2="622.62" stroke="#ffc4c4" stroke-width="1.6" stroke-dasharray="1.3 7.92" stroke-dashoffset="2.4"/>
<line x1="1156.74" y1="656.67" x2="1293.1" y2="655.85" stroke="#555" stroke-width="1.4" stroke-dasharray="1.4 26.2" stroke-dashoffset="9.2"/>
<line x1="1293.1" y1="655.85" x2="1322.32" y2="650.13" stroke="#555" stroke-width="1.4" stroke-dasharray="1.43 26.7" stroke-dashoffset="7.7"/>
<line x1="1322.32" y1="650.13" x2="1361.28" y2="653.7" stroke="#555" stroke-width="1.4" stroke-dasharray="1.41 26.31" stroke-dashoffset="9.22"/>
<line x1="1361.28" y1="653.7" x2="1429.46" y2="443.98" stroke="#555" stroke-width="1.4" stroke-dasharray="1.47 27.55" stroke-dashoffset="21.6"/>
<line x1="1429.46" y1="443.98" x2="1634" y2="617.72" stroke="#555" stroke-width="1.4" stroke-dasharray="1.84 34.38" stroke-dashoffset="12.4"/>
<line x1="1634" y1="617.72" x2="1702.18" y2="622.62" stroke="#555" stroke-width="1.4" stroke-dasharray="1.4 26.27" stroke-dashoffset="20.85"/>
<circle cx="1156.74" cy="656.67" r="9.6" fill="#ff0000" stroke="#000" stroke-width="1.5" stroke-linejoin="miter"/>
<circle cx="1293.1" cy="655.85" r="9.6" fill="#ff0000" stroke="#000" stroke-width="1.5" stroke-linejoin="miter"/>
<circle cx="1322.32" cy="650.13" r="9.6" fill="#ff0000" stroke="#000" stroke-width="1.5" stroke-linejoin="miter"/>
<circle cx="1361.28" cy="653.7" r="9.6" fill="#ff0000" stroke="#000" stroke-width="1.5" stroke-linejoin="miter"/>
<circle cx="1429.46" cy="443.98" r="9.6" fill="#ff0000" stroke="#000" stroke-width="1.5" stroke-linejoin="miter"/>
<circle cx="1634" cy="617.72" r="9.6" fill="#ff0000" stroke="#000" stroke-width="1.5" stroke-linejoin="miter"/>
<circle cx="1702.18" cy="622.62" r="9.6" fill="#ff0000" stroke="#000" stroke-width="1.5" stroke-linejoin="miter"/>
<line x1="1156.74" y1="643.96" x2="1293.1" y2="644.92" stroke="#ff0000" stroke-width="2.0" stroke-dasharray="20.6 8.7" stroke-dashoffset="0"/>
<line x1="1293.1" y1="644.92" x2="1322.32" y2="643.51" stroke="#ff0000" stroke-width="2.0" stroke-dasharray="20.62 8.71" stroke-dashoffset="19.18"/>
<line x1="1322.32" y1="643.51" x2="1361.28" y2="647.68" stroke="#ff0000" stroke-width="2.0" stroke-dasharray="20.72 8.75" stroke-dashoffset="19.19"/>
<line x1="1361.28" y1="647.68" x2="1429.46" y2="429.56" stroke="#ff0000" stroke-width="2.0" stroke-dasharray="21.58 9.12" stroke-dashoffset="30.11"/>
<line x1="1429.46" y1="429.56" x2="1634" y2="591.92" stroke="#ff0000" stroke-width="2.0" stroke-dasharray="26.3 11.11" stroke-dashoffset="15.9"/>
<line x1="1634" y1="591.92" x2="1702.18" y2="618.24" stroke="#ff0000" stroke-width="2.0" stroke-dasharray="22.08 9.33" stroke-dashoffset="12.75"/>
<polygon points="1146.99,638.23 1166.49,638.23 1156.74,655.43" fill="#ff0000" stroke="#000" stroke-width="1.5" stroke-linejoin="miter"/>
<polygon points="1283.35,639.19 1302.85,639.19 1293.1,656.39" fill="#ff0000" stroke="#000" stroke-width="1.5" stroke-linejoin="miter"/>
<polygon points="1312.57,637.78 1332.07,637.78 1322.32,654.98" fill="#ff0000" stroke="#000" stroke-width="1.5" stroke-linejoin="miter"/>
<polygon points="1351.53,641.94 1371.03,641.94 1361.28,659.14" fill="#ff0000" stroke="#000" stroke-width="1.5" stroke-linejoin="miter"/>
<polygon points="1419.71,423.83 1439.21,423.83 1429.46,441.03" fill="#ff0000" stroke="#000" stroke-width="1.5" stroke-linejoin="miter"/>
<polygon points="1624.25,586.19 1643.75,586.19 1634,603.39" fill="#ff0000" stroke="#000" stroke-width="1.5" stroke-linejoin="miter"/>
<polygon points="1692.43,612.5 1711.93,612.5 1702.18,629.7" fill="#ff0000" stroke="#000" stroke-width="1.5" stroke-linejoin="miter"/>
<line x1="1156.74" y1="645.07" x2="1293.1" y2="645.89" stroke="#ff0000" stroke-width="2.0" stroke-dasharray="27.4 27" stroke-dashoffset="0"/>
<line x1="1293.1" y1="645.89" x2="1322.32" y2="648.72" stroke="#ff0000" stroke-width="2.0" stroke-dasharray="27.53 27.13" stroke-dashoffset="27.69"/>
<line x1="1322.32" y1="648.72" x2="1361.28" y2="645.45" stroke="#ff0000" stroke-width="2.0" stroke-dasharray="27.5 27.09" stroke-dashoffset="2.39"/>
<line x1="1361.28" y1="645.45" x2="1429.46" y2="412.02" stroke="#ff0000" stroke-width="2.0" stroke-dasharray="28.54 28.13" stroke-dashoffset="43.07"/>
<line x1="1429.46" y1="412.02" x2="1634" y2="591.92" stroke="#ff0000" stroke-width="2.0" stroke-dasharray="36.49 35.96" stroke-dashoffset="3.69"/>
<line x1="1634" y1="591.92" x2="1702.18" y2="620.99" stroke="#ff0000" stroke-width="2.0" stroke-dasharray="29.79 29.35" stroke-dashoffset="47.95"/>
<line x1="1156.74" y1="645.07" x2="1293.1" y2="645.89" stroke="#ffc4c4" stroke-width="1.6" stroke-dasharray="1.3 7.7 1.3 44.1" stroke-dashoffset="18.4"/>
<line x1="1293.1" y1="645.89" x2="1322.32" y2="648.72" stroke="#ffc4c4" stroke-width="1.6" stroke-dasharray="1.31 7.74 1.31 44.31" stroke-dashoffset="46.17"/>
<line x1="1322.32" y1="648.72" x2="1361.28" y2="645.45" stroke="#ffc4c4" stroke-width="1.6" stroke-dasharray="1.3 7.73 1.3 44.26" stroke-dashoffset="20.85"/>
<line x1="1361.28" y1="645.45" x2="1429.46" y2="412.02" stroke="#ffc4c4" stroke-width="1.6" stroke-dasharray="1.35 8.02 1.35 45.94" stroke-dashoffset="5.56"/>
<line x1="1429.46" y1="412.02" x2="1634" y2="591.92" stroke="#ffc4c4" stroke-width="1.6" stroke-dasharray="1.73 10.25 1.73 58.73" stroke-dashoffset="28.19"/>
<line x1="1634" y1="591.92" x2="1702.18" y2="620.99" stroke="#ffc4c4" stroke-width="1.6" stroke-dasharray="1.41 8.37 1.41 47.94" stroke-dashoffset="8.81"/>
<polygon points="1146.99,650.81 1166.49,650.81 1156.74,633.61" fill="#ff0000" stroke="#000" stroke-width="1.5" stroke-linejoin="miter"/>
<polygon points="1283.35,651.62 1302.85,651.62 1293.1,634.42" fill="#ff0000" stroke="#000" stroke-width="1.5" stroke-linejoin="miter"/>
<polygon points="1312.57,654.45 1332.07,654.45 1322.32,637.25" fill="#ff0000" stroke="#000" stroke-width="1.5" stroke-linejoin="miter"/>
<polygon points="1351.53,651.18 1371.03,651.18 1361.28,633.98" fill="#ff0000" stroke="#000" stroke-width="1.5" stroke-linejoin="miter"/>
<polygon points="1419.71,417.75 1439.21,417.75 1429.46,400.55" fill="#ff0000" stroke="#000" stroke-width="1.5" stroke-linejoin="miter"/>
<polygon points="1624.25,597.65 1643.75,597.65 1634,580.45" fill="#ff0000" stroke="#000" stroke-width="1.5" stroke-linejoin="miter"/>
<polygon points="1692.43,626.72 1711.93,626.72 1702.18,609.52" fill="#ff0000" stroke="#000" stroke-width="1.5" stroke-linejoin="miter"/>
<text x="0" y="31.7" class="pl">a)</text>
<text x="955" y="28" class="pl">b)</text>
<text transform="translate(518,852.4) scale(1,1.025)" class="ti">Days</text>
<text transform="translate(1399.8,852.4) scale(1,1.025)" class="ti">Days</text>
<text transform="translate(85.3,562.5) rotate(-90) scale(1,1.035)" class="ti" style="font-size:37.7px">Total anti-Zika IgM</text>
<text transform="translate(128.4,563) rotate(-90) scale(1,1.035)" class="ti" style="font-size:37.5px">(normalised ODs)</text>
<text transform="translate(1036,579) rotate(-90) scale(1,1.03)" class="ti" style="font-size:37.3px">Anti-NS-1 IgM (ratio)</text>
<rect x="772" y="903.5" width="302.2" height="339.5" fill="none" stroke="#000" stroke-width="2" stroke-linejoin="round"/>
<polyline points="794.2,942.2 956.8,942.2" stroke="#008000" stroke-width="2.0" fill="none" stroke-linejoin="round"/>
<circle cx="875.6" cy="942.2" r="10.0" fill="#008000"/>
<text transform="translate(996.8,952.5) scale(1,1.08)" class="lg">R1</text>
<line x1="794.2" y1="979.55" x2="956.8" y2="979.55" stroke="#c4e2c4" stroke-width="1.6" stroke-dasharray="1.3 7.9" stroke-dashoffset="0"/>
<line x1="794.2" y1="979.55" x2="956.8" y2="979.55" stroke="#555" stroke-width="1.4" stroke-dasharray="1.4 26.2" stroke-dashoffset="9.2"/>
<polygon points="865.2,973.42 886,973.42 875.6,991.82" fill="#008000"/>
<text transform="translate(996.8,989.85) scale(1,1.08)" class="lg">R2</text>
<line x1="794.2" y1="1016.9" x2="956.8" y2="1016.9" stroke="#008000" stroke-width="2.0" stroke-dasharray="20.6 8.7" stroke-dashoffset="0"/>
<rect x="866.6" y="1007.9" width="18" height="18" fill="#008000"/>
<text transform="translate(996.8,1027.2) scale(1,1.08)" class="lg">R3</text>
<line x1="794.2" y1="1054.25" x2="956.8" y2="1054.25" stroke="#008000" stroke-width="2.0" stroke-dasharray="27.4 27" stroke-dashoffset="0"/>
<line x1="794.2" y1="1054.25" x2="956.8" y2="1054.25" stroke="#c4e2c4" stroke-width="1.6" stroke-dasharray="1.3 7.7 1.3 44.1" stroke-dashoffset="18.4"/>
<polygon points="875.6,1042.25 887.2,1054.25 875.6,1066.25 864,1054.25" fill="#008000"/>
<text transform="translate(996.8,1064.55) scale(1,1.08)" class="lg">R4</text>
<polyline points="794.2,1091.6 956.8,1091.6" stroke="#ff0000" stroke-width="2.0" fill="none" stroke-linejoin="round"/>
<circle cx="875.6" cy="1091.6" r="10.0" fill="#ff0000"/>
<text transform="translate(996.8,1101.9) scale(1,1.08)" class="lg">R5</text>
<line x1="794.2" y1="1128.95" x2="956.8" y2="1128.95" stroke="#ffc4c4" stroke-width="1.6" stroke-dasharray="1.3 7.9" stroke-dashoffset="0"/>
<line x1="794.2" y1="1128.95" x2="956.8" y2="1128.95" stroke="#555" stroke-width="1.4" stroke-dasharray="1.4 26.2" stroke-dashoffset="9.2"/>
<circle cx="875.6" cy="1128.95" r="10.0" fill="#ff0000"/>
<text transform="translate(996.8,1139.25) scale(1,1.08)" class="lg">R11</text>
<line x1="794.2" y1="1166.3" x2="956.8" y2="1166.3" stroke="#ff0000" stroke-width="2.0" stroke-dasharray="20.6 8.7" stroke-dashoffset="0"/>
<polygon points="865.2,1160.17 886,1160.17 875.6,1178.57" fill="#ff0000"/>
<text transform="translate(996.8,1176.6) scale(1,1.08)" class="lg">R12</text>
<line x1="794.2" y1="1203.65" x2="956.8" y2="1203.65" stroke="#ff0000" stroke-width="2.0" stroke-dasharray="27.4 27" stroke-dashoffset="0"/>
<line x1="794.2" y1="1203.65" x2="956.8" y2="1203.65" stroke="#ffc4c4" stroke-width="1.6" stroke-dasharray="1.3 7.7 1.3 44.1" stroke-dashoffset="18.4"/>
<polygon points="865.4,1209.58 885.8,1209.58 875.6,1191.78" fill="#ff0000"/>
<text transform="translate(996.8,1213.95) scale(1,1.08)" class="lg">R13</text>
</svg>
</body></html>
